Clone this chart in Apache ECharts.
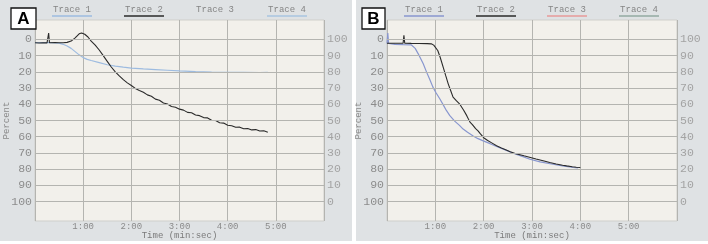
<!DOCTYPE html>
<html>
<head>
<meta charset="utf-8">
<script src="https://cdn.jsdelivr.net/npm/echarts@6/dist/echarts.min.js"></script>
<style>
  html, body { margin: 0; padding: 0; background: #fff; }
  #chart { width: 708px; height: 244px; }
</style>
</head>
<body>
<div id="chart"></div>
<script>
// panel labels and legend names
const panelNames = ['A', 'B']
const traceNames = ['Trace 1', 'Trace 2', 'Trace 3', 'Trace 4']
const percentTicks = [0, 10, 20, 30, 40, 50, 60, 70, 80, 90, 100]

// panel A, trace 2 (black)
const timeA2 = [0, 5, 10, 15, 17, 18, 20, 25, 30, 35, 40, 45, 50, 55, 58, 62, 66, 70, 75, 80, 85, 90, 95, 100, 105, 110, 115, 120, 125, 130, 135, 140, 145, 150, 155, 160, 165, 170, 175, 180, 185, 190, 195, 200, 205, 210, 215, 220, 225, 230, 235, 240, 245, 250, 255, 260, 265, 270, 275, 280, 285, 290]
const valA2 = [2, 2.2, 2, 2.1, -4, 2, 2, 1.9, 2, 2, 1.8, 1, -1, -3.5, -4, -3.2, -1.5, 1, 3.5, 6.5, 10, 13.5, 17, 20, 22.5, 24.8, 26.8, 28.4, 30.2, 31.5, 32.6, 34.2, 35, 36.8, 37.5, 39.2, 39.8, 41.4, 41.8, 43, 43.6, 45, 45.2, 46.6, 47, 48.2, 48.4, 49.8, 50, 51.4, 51.6, 52.9, 53.2, 54.2, 54.1, 55.1, 54.9, 55.8, 55.6, 56.5, 56.3, 57.2]
// panel A, trace 1 (light blue)
const timeA1 = [0, 10, 20, 30, 35, 40, 45, 50, 55, 60, 65, 70, 80, 90, 100, 110, 120, 135, 150, 165, 180, 200, 220, 240, 260, 280, 290]
const valA1 = [2, 2, 2, 2.3, 3, 4, 5.5, 7.5, 9.5, 11.2, 12.3, 13, 14.3, 15.6, 16.4, 17.1, 17.7, 18.2, 18.6, 19, 19.4, 19.8, 20.1, 20.3, 20.3, 20.4, 20.3]

// panel B, trace 2 (black)
const timeB2 = [0, 10, 20, 21, 22, 30, 40, 50, 55, 58, 60, 63, 66, 70, 73, 76, 79, 82, 86, 90, 95, 99, 103, 106, 110, 113, 116, 120, 125, 130, 136, 142, 148, 153, 160, 170, 178, 185, 195, 202, 210, 218, 223, 230, 235, 240]
const valB2 = [2.3, 2.3, 2.3, -2.5, 2.3, 2.4, 2.5, 2.6, 2.7, 3.5, 4.5, 6.8, 11, 17.5, 22.5, 27.4, 31.5, 35.6, 37.8, 39.7, 43.5, 47, 51, 52.5, 55, 56.4, 58.3, 60.6, 62.3, 63.8, 65.6, 67, 68.2, 69.3, 70.5, 71.8, 72.8, 73.8, 75, 75.9, 76.8, 77.6, 78, 78.5, 78.8, 79]
// panel B, trace 1 (blue)
const timeB1 = [0, 1, 2, 10, 20, 30, 35, 40, 45, 49, 53, 57, 61, 65.5, 70, 73.7, 78, 84, 86, 90, 94.5, 100, 107, 113, 119.5, 128, 136, 146, 156.7, 167, 177.5, 190, 206, 218, 231, 237]
const valB1 = [2.5, -4, 2.5, 3, 3.2, 3.3, 5.5, 10, 15, 20, 24.5, 29.4, 33, 36.6, 40.5, 43.8, 47, 50.4, 51.2, 53, 55.3, 57.3, 59.5, 61.2, 62.6, 64.3, 66, 68, 70.2, 72, 73.9, 75.5, 77, 78, 79, 79.2]

const zip = (ts, vs) => ts.map((t, i) => [t, vs[i]])

const mono = 'Liberation Mono'
const panelBg = '#dfe2e4'
const plotBg = '#f2f0eb'
const gridColor = '#b4b4b0'

// one panel = grid + x axis + left/right y axes
const grids = [
  { left: 35, top: 20, width: 289, bottom: 23 },
  { left: 387, top: 20, width: 290, bottom: 23 },
]
// underline colours of the legend entries per panel (null = no underline)
const legendColors = [
  ['#9dbbe0', '#2a2a2a', null, '#a9c4e0'],
  ['#8896cf', '#2a2a2a', '#e79a9a', '#93aaa2'],
]
const traceColors = [
  ['#9dbbe0', '#2a2a2a'],
  ['#8896cf', '#2a2a2a'],
]
const panelData = [
  [zip(timeA1, valA1), zip(timeA2, valA2)],
  [zip(timeB1, valB1), zip(timeB2, valB2)],
]

const fmtTime = v => `${Math.floor(v / 60)}:${String(v % 60).padStart(2, '0')}`

const xAxis = grids.map((g, i) => ({
  gridIndex: i,
  type: 'value',
  min: 0,
  max: 360,
  interval: 60,
  name: 'Time (min:sec)',
  nameLocation: 'middle',
  nameGap: 10,
  nameMoveOverlap: false,
  nameTextStyle: { fontFamily: mono, fontSize: 9, color: '#7a7a7a' },
  axisLine: { show: false },
  axisTick: { show: false },
  axisLabel: {
    fontFamily: mono, fontSize: 9, color: '#8a8a8a', margin: 1,
    showMinLabel: false, showMaxLabel: false,
    formatter: v => (v <= 0 || v >= 360) ? '' : fmtTime(v),
  },
  splitLine: { show: true, lineStyle: { color: gridColor, width: 1 } },
}))

const yAxis = []
grids.forEach((g, i) => {
  // left axis: percent, 0 at top
  yAxis.push({
    gridIndex: i,
    type: 'value',
    inverse: true,
    min: -12,
    max: 112,
    interval: 2,
    name: 'Percent',
    nameLocation: 'middle',
    nameGap: 24,
    nameMoveOverlap: false,
    nameTextStyle: { fontFamily: mono, fontSize: 9, color: '#8a8a8a' },
    axisLine: { show: false },
    axisTick: { show: false },
    splitLine: { show: false },
    axisLabel: {
      fontFamily: mono, fontSize: 11.5, color: '#8c8c8c', margin: 3,
      formatter: v => percentTicks.includes(v) ? String(v) : '',
    },
  })
  // right axis: same scale read the other way
  yAxis.push({
    gridIndex: i,
    type: 'value',
    position: 'right',
    min: -12,
    max: 112,
    interval: 2,
    axisLine: { show: false },
    axisTick: { show: false },
    splitLine: { show: false },
    axisLabel: {
      fontFamily: mono, fontSize: 11.5, color: '#a3a3a3', margin: 3,
      formatter: v => percentTicks.includes(v) ? String(v) : '',
    },
  })
})

const series = []
grids.forEach((g, i) => {
  // horizontal grid lines at the percent ticks
  series.push({
    type: 'line',
    xAxisIndex: i,
    yAxisIndex: i * 2,
    data: [],
    z: 1,
    silent: true,
    markLine: {
      silent: true,
      symbol: 'none',
      label: { show: false },
      lineStyle: { color: gridColor, width: 1, type: 'solid' },
      data: percentTicks.map(v => ({ yAxis: v })),
    },
  })
  panelData[i].forEach((d, k) => {
    series.push({
      name: traceNames[k],
      type: 'line',
      xAxisIndex: i,
      yAxisIndex: i * 2,
      data: d,
      showSymbol: false,
      z: 3,
      lineStyle: { color: traceColors[i][k], width: k === 1 ? 1.1 : 1.2 },
    })
  })
})

// panel backgrounds, letter boxes and the underlined trace legend
const graphic = []
const panelRects = [[0, 352], [356, 352]]
panelRects.forEach(([x, w]) => {
  graphic.push({ type: 'rect', z: -10, shape: { x, y: 0, width: w, height: 241 }, style: { fill: panelBg } })
})
const boxes = [[11, 8, 25, 21], [362, 8, 23, 21]]
boxes.forEach(([x, y, w, h], i) => {
  graphic.push({ type: 'rect', z: 20, shape: { x, y, width: w, height: h }, style: { fill: '#fff', stroke: '#111', lineWidth: 1.3 } })
  graphic.push({
    type: 'text', z: 21, x: x + w / 2, y: y + h / 2 + 1,
    style: { text: panelNames[i], font: 'bold 17px "Liberation Sans"', fill: '#000', textAlign: 'center', textVerticalAlign: 'middle' },
  })
})
const legendOffsets = [37, 109, 180, 252]
grids.forEach((g, i) => {
  traceNames.forEach((name, k) => {
    const cx = g.left + legendOffsets[k]
    graphic.push({
      type: 'text', z: 20, x: cx, y: 10,
      style: { text: name, font: `9px "${mono}"`, fill: '#858585', textAlign: 'center', textVerticalAlign: 'middle' },
    })
    if (legendColors[i][k]) {
      graphic.push({
        type: 'line', z: 20,
        shape: { x1: cx - 20, y1: 16, x2: cx + 20, y2: 16 },
        style: { stroke: legendColors[i][k], lineWidth: 1.6 },
      })
    }
  })
})

const chart = echarts.init(document.getElementById('chart'), null, { renderer: 'canvas' })
chart.setOption({
  animation: false,
  backgroundColor: '#fff',
  grid: grids.map(g => ({ ...g, show: true, outerBoundsMode: 'none', containLabel: false, backgroundColor: plotBg, borderColor: '#cfcfcb', borderWidth: 1 })),
  xAxis,
  yAxis,
  series,
  graphic,
})
</script>
</body>
</html>
